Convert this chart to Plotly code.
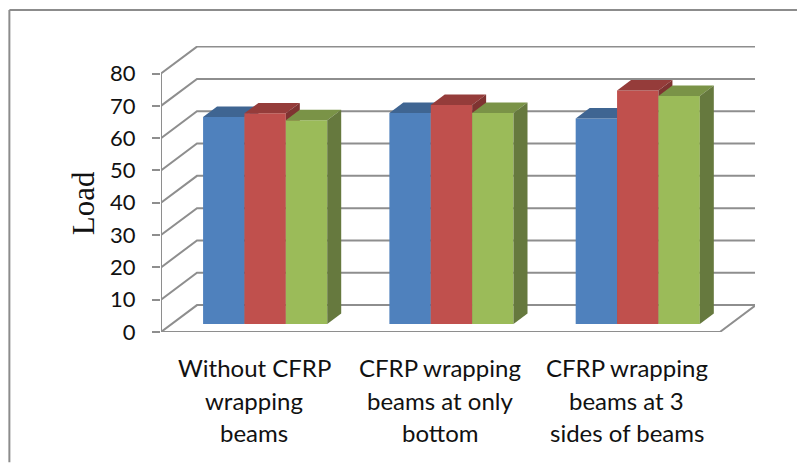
import plotly.graph_objects as go

# Data
categories = ["Without CFRP wrapping beams", "CFRP wrapping beams at only bottom", "CFRP wrapping beams at 3 sides of beams"]
label_lines = [["Without CFRP", "wrapping", "beams"],
               ["CFRP wrapping", "beams at only", "bottom"],
               ["CFRP wrapping", "beams at 3", "sides of beams"]]
series_1 = [64.1, 65.3, 63.6]
series_2 = [65.2, 67.8, 72.3]
series_3 = [63.1, 65.3, 70.6]
y_ticks = [0, 10, 20, 30, 40, 50, 60, 70, 80]
y_title = "Load"

# Styling
fronts = ["#4F81BD", "#C0504D", "#9BBB59"]
tops = ["#3F6592", "#953C3A", "#7A9347"]
sides = ["#2F4C70", "#7F3331", "#66793E"]
GRID = "#8E8E8E"
W, H = 797, 463
L, R, T, B = 160.7, 755, 45.7, 332.5
PX_X = 186.4            # px per category
PX_Y = 3.24             # px per value unit
wall_dx, wall_dy = 36 / PX_X, 27 / PX_Y
bar_dx, bar_dy = 14 / PX_X, 10.5 / PX_Y
bar_w = 41.4 / PX_X
bar_shift = 11 / PX_X
bar_base = 8 / PX_Y
x0, x1 = -0.5, 2.5
x_range = [x0, x0 + (R - L) / PX_X]
y_range = [0, (B - T) / PX_Y]

fig = go.Figure()


def line(xs, ys):
    fig.add_trace(go.Scatter(x=xs, y=ys, mode="lines", hoverinfo="skip", showlegend=False,
                             line=dict(color=GRID, width=2)))


# Walls and floor
for v in y_ticks:
    line([x0, x0 + wall_dx, x1 + wall_dx], [v, v + wall_dy, v + wall_dy])
line([x0, x0], [y_ticks[0], y_ticks[-1]])
line([x0, x1, x1 + wall_dx], [0, 0, wall_dy])

# Bars, one overlay subplot per series so later series paint over earlier ones
for i, values in enumerate([series_1, series_2, series_3]):
    xa, ya = f"x{i + 2}", f"y{i + 2}"
    xs = [k + bar_shift + (i - 1) * bar_w for k in range(len(categories))]
    fig.add_trace(go.Bar(x=xs, y=values, base=[bar_base] * len(values), width=bar_w, xaxis=xa, yaxis=ya,
                         marker=dict(color=fronts[i], line=dict(width=0)), showlegend=False,
                         name=f"Series{i + 1}"))
    for xc, v in zip(xs, values):
        a, b = xc - bar_w / 2, xc + bar_w / 2
        t = bar_base + v
        fig.add_trace(go.Scatter(x=[a, b, b + bar_dx, a + bar_dx, a], y=[t, t, t + bar_dy, t + bar_dy, t],
                                 fill="toself", fillcolor=tops[i], mode="lines", line=dict(width=0),
                                 xaxis=xa, yaxis=ya, hoverinfo="skip", showlegend=False))
        fig.add_trace(go.Scatter(x=[b, b + bar_dx, b + bar_dx, b, b],
                                 y=[bar_base, bar_base + bar_dy, t + bar_dy, t, bar_base],
                                 fill="toself", fillcolor=sides[i], mode="lines", line=dict(width=0),
                                 xaxis=xa, yaxis=ya, hoverinfo="skip", showlegend=False))

annotations = []
for k, lines in enumerate(label_lines):
    for j, txt in enumerate(lines):
        annotations.append(dict(x=k, y=0, xref="x", yref="y", text=txt, showarrow=False,
                                yanchor="middle", xanchor="center", yshift=-35.5 - 32.5 * j,
                                font=dict(family="Lato", size=24, color="#111111")))
annotations.append(dict(x=(84 - L) / (R - L), y=(B - 203) / (B - T), xref="paper", yref="paper",
                        xanchor="center", yanchor="middle",
                        text=y_title, showarrow=False, textangle=-90,
                        font=dict(family="Liberation Serif", size=31, color="#111111")))

layout = dict(
    width=W, height=H, autosize=False,
    margin=dict(l=L, r=W - R, t=T, b=H - B, pad=0),
    paper_bgcolor="white", plot_bgcolor="rgba(0,0,0,0)",
    showlegend=False, annotations=annotations,
    xaxis=dict(range=x_range, tickvals=[], showgrid=False, zeroline=False, showline=False),
    yaxis=dict(range=y_range, tickvals=y_ticks, ticks="outside", ticklen=8, tickwidth=2, tickcolor=GRID,
               showgrid=False, zeroline=False, showline=False, ticklabelstandoff=12,
               tickfont=dict(family="Lato", size=22, color="#111111")),
    shapes=[
        dict(type="line", xref="paper", yref="paper", x0=(9 - L) / (R - L), x1=(W - L) / (R - L),
             y0=(B - 9.5) / (B - T), y1=(B - 9.5) / (B - T), line=dict(color="#8C8C8C", width=2)),
        dict(type="line", xref="paper", yref="paper", x0=(9 - L) / (R - L), x1=(9 - L) / (R - L),
             y0=(B - 9.5) / (B - T), y1=(B - H) / (B - T), line=dict(color="#8C8C8C", width=2)),
    ],
)
for i in range(3):
    n = i + 2
    layout[f"xaxis{n}"] = dict(range=x_range, overlaying="x", visible=False, anchor=f"y{n}")
    layout[f"yaxis{n}"] = dict(range=y_range, overlaying="y", visible=False, anchor=f"x{n}")
fig.update_layout(**layout)
fig.write_html("out.html", config={"displayModeBar": False},
               post_script="document.documentElement.style.overflow='hidden';document.body.style.margin='0';")
